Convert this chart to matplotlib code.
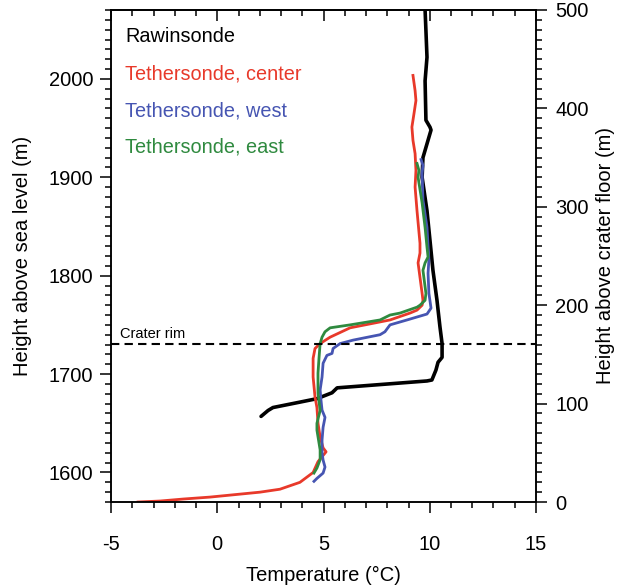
import numpy as np
import matplotlib
matplotlib.use("Agg")
import matplotlib.pyplot as plt
from matplotlib.ticker import MultipleLocator

plt.rcParams['font.family'] = ['Liberation Sans', 'DejaVu Sans']
plt.rcParams['axes.unicode_minus'] = False

# rawinsonde profile (temperature degC, height m ASL)
raw_t = [2.06, 2.39, 2.62, 3.89, 4.69, 5.40, 5.64, 9.87, 10.10, 10.29, 10.39,
         10.58, 10.58, 10.48, 10.34, 10.15, 10.01, 9.87, 9.64, 9.68, 9.87,
         10.06, 10.01, 9.82, 9.78, 9.87, 9.82, 9.78]
raw_z = [1657, 1663, 1666, 1671.5, 1675, 1681, 1686, 1693, 1694, 1704, 1712,
         1717, 1731, 1748, 1775, 1805.5, 1836, 1866, 1900, 1920, 1934,
         1948, 1951, 1958, 1998, 2022, 2049, 2070]

# tethersonde, crater center
cen_t = [-3.73, -2.69, -1.61, -0.34, 1.07, 2.01, 2.95, 3.89, 4.51, 4.74,
         4.93, 5.12, 4.98, 4.84, 4.74, 4.69, 4.60, 4.51, 4.51, 4.60, 4.84,
         5.31, 6.25, 8.13, 9.07, 9.40, 9.64, 9.68, 9.64, 9.45, 9.54, 9.54,
         9.40, 9.31, 9.35, 9.31, 9.21, 9.16, 9.26, 9.35, 9.31, 9.21]
cen_z = [1570, 1571, 1573, 1575, 1578, 1580, 1583, 1590, 1600, 1611,
         1616, 1621, 1625, 1636, 1650, 1666, 1676.6, 1697, 1716, 1726, 1731,
         1737.5, 1747, 1755, 1762, 1765, 1770, 1775, 1782, 1813, 1823, 1833,
         1866, 1890, 1907, 1924, 1937.5, 1951, 1965, 1978, 1988, 2003.5]

# tethersonde, west
west_t = [4.55, 4.69, 4.98, 5.07, 4.98, 4.93, 4.93, 4.98, 5.07, 4.93, 4.88,
          4.84, 4.93, 4.98, 5.16, 5.40, 5.45, 5.78, 6.39, 7.66, 7.89, 8.13,
          8.93, 9.87, 10.06, 9.96, 9.92, 9.96, 9.87, 9.68, 9.64, 9.68, 9.59]
west_z = [1591, 1594, 1599.4, 1605.5, 1612.6, 1620, 1633, 1646, 1656, 1663.4, 1673.6,
          1684, 1697, 1711, 1719, 1721, 1726, 1731, 1734.5, 1740, 1743, 1750,
          1755, 1761, 1767, 1782, 1802.5, 1816, 1849, 1877, 1904, 1912, 1918]

# tethersonde, east
east_t = [4.55, 4.69, 4.84, 4.84, 4.69, 4.69, 4.84, 4.74, 4.74, 4.79, 4.84,
          4.93, 5.07, 5.31, 6.25, 7.66, 8.13, 8.60, 9.40, 9.54, 9.78, 9.82,
          9.68, 9.78, 9.92, 9.87, 9.78, 9.64, 9.45, 9.49, 9.40]
east_z = [1599.4, 1604.5, 1613, 1623, 1643, 1650, 1663, 1680.7, 1701, 1717, 1731,
          1737.5, 1743, 1747, 1750, 1755, 1760, 1762, 1768, 1770, 1775, 1782,
          1805.5, 1813, 1819, 1829, 1849, 1874, 1900, 1907, 1914]

labels = ['Rawinsonde', 'Tethersonde, center', 'Tethersonde, west', 'Tethersonde, east']
colors = ['black', '#e8392a', '#4655b2', '#2f8a3f']

crater_floor = 1570
crater_rim = 1731

fig = plt.figure(figsize=(6.17, 5.87), dpi=100)
ax = fig.add_axes([0.18, 0.1448, 0.6887, 0.8382])

ax.plot(raw_t, raw_z, color=colors[0], lw=2.6, solid_capstyle='round')
ax.plot(cen_t, cen_z, color=colors[1], lw=2.0)
ax.plot(west_t, west_z, color=colors[2], lw=2.0)
ax.plot(east_t, east_z, color=colors[3], lw=2.0)

ax.axhline(crater_rim, color='black', lw=1.5, ls=(0, (4, 2.5)))
ax.text(-4.6, crater_rim + 3, 'Crater rim', fontsize=10.5, va='bottom', ha='left')

for i, (lab, c) in enumerate(zip(labels, colors)):
    ax.text(0.033, 0.965 - i * 0.075, lab, color=c, fontsize=14.3,
            transform=ax.transAxes, va='top', ha='left')

ax.set_xlim(-5, 15)
ax.set_ylim(crater_floor, crater_floor + 500)
ax.xaxis.set_major_locator(MultipleLocator(5))
ax.xaxis.set_minor_locator(MultipleLocator(1))
ax.yaxis.set_major_locator(MultipleLocator(100))
ax.yaxis.set_minor_locator(MultipleLocator(10))
ax.tick_params(axis='x', which='major', direction='out', length=8, width=1.1,
               labelsize=14.5, pad=16)
ax.tick_params(axis='x', which='minor', direction='out', length=4, width=1.1)
ax.tick_params(axis='y', which='major', direction='out', length=8, width=1.1,
               labelsize=14.5, pad=5)
ax.tick_params(axis='y', which='minor', direction='out', length=4, width=1.1)

top = ax.secondary_xaxis('top')
top.xaxis.set_major_locator(MultipleLocator(5))
top.xaxis.set_minor_locator(MultipleLocator(1))
top.tick_params(which='major', direction='in', length=8, width=1.1, labeltop=False)
top.tick_params(which='minor', direction='in', length=4, width=1.1)
top.spines['top'].set_linewidth(1.1)

ax2 = ax.twinx()
ax2.set_ylim(0, 500)
ax2.yaxis.set_major_locator(MultipleLocator(100))
ax2.yaxis.set_minor_locator(MultipleLocator(10))
ax2.tick_params(which='major', direction='out', length=8, width=1.1,
                labelsize=14.5, pad=6)
ax2.tick_params(which='minor', direction='out', length=4, width=1.1)

for a in (ax, ax2):
    for s in a.spines.values():
        s.set_linewidth(1.1)

ax.set_xlabel('Temperature (\u00b0C)', fontsize=14.5, labelpad=8)
ax.set_ylabel('Height above sea level (m)', fontsize=14.5, labelpad=12)
ax2.set_ylabel('Height above crater floor (m)', fontsize=14.5, labelpad=5)

fig.savefig('out.png', dpi=100)
